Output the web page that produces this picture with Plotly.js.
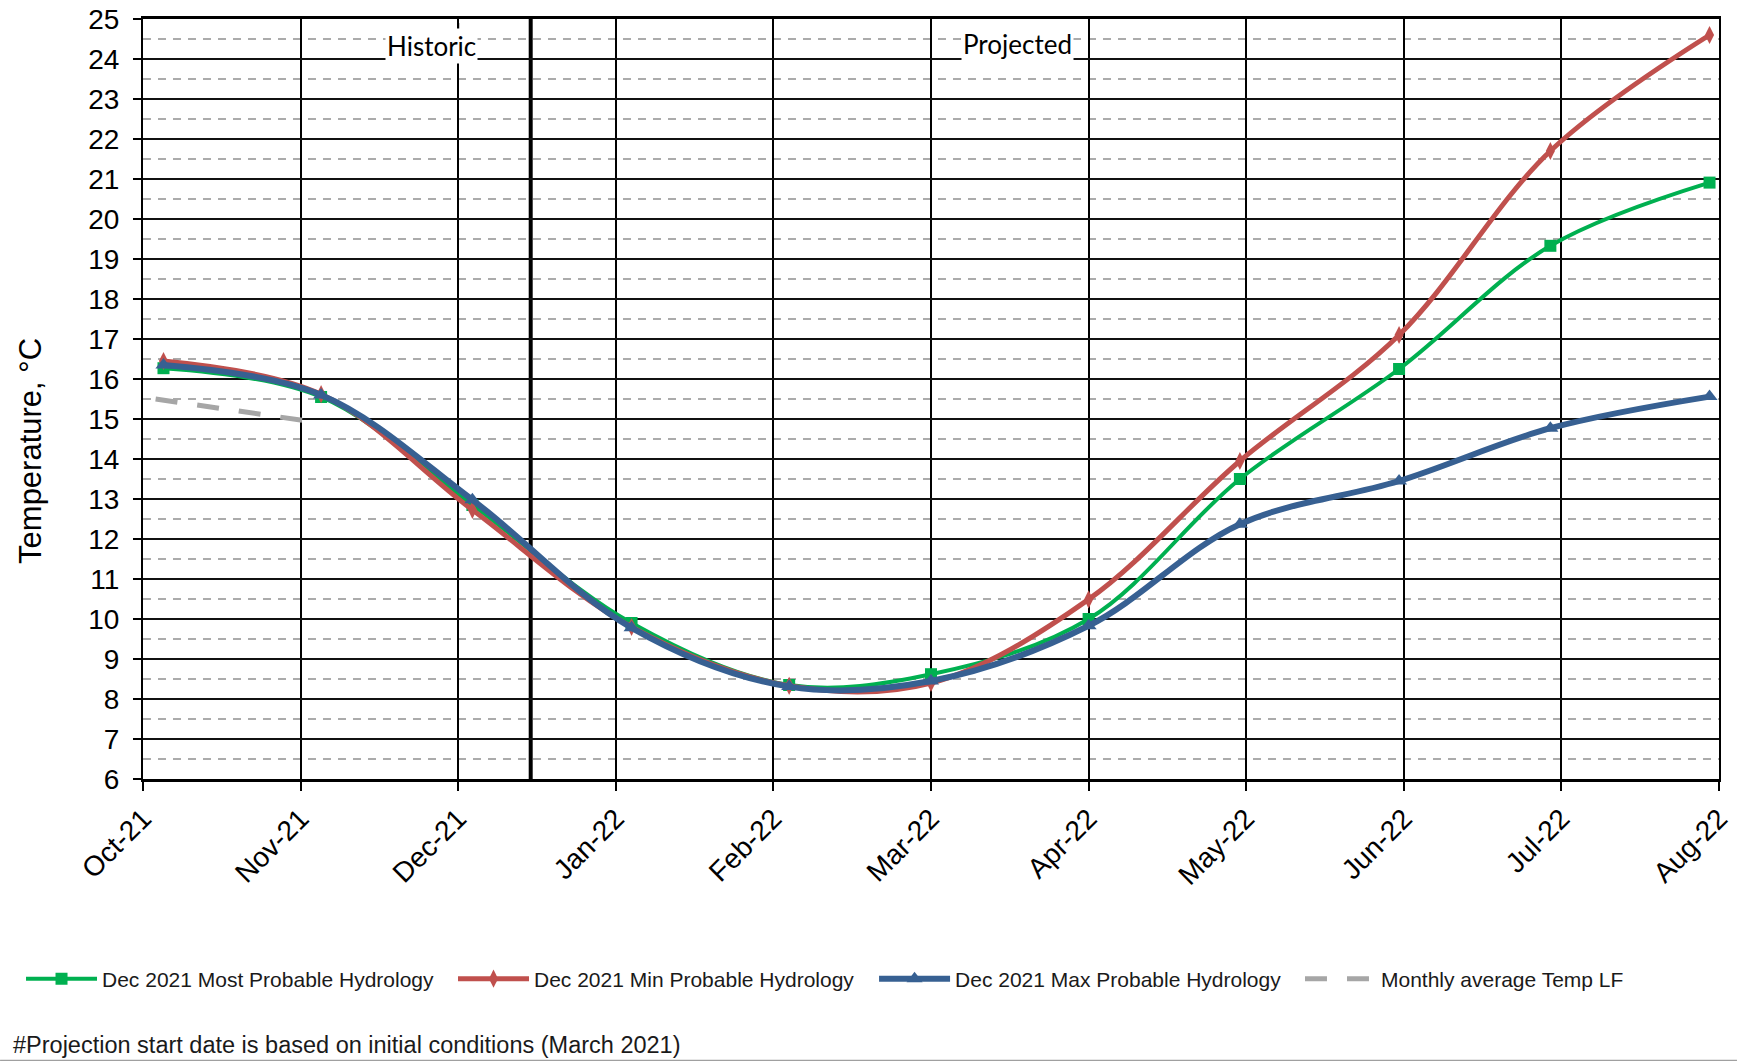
<!DOCTYPE html>
<html>
<head>
<meta charset="utf-8">
<script src="https://cdn.plot.ly/plotly-3.0.1.min.js"></script>
<style>html,body{margin:0;padding:0;background:#fff;}#chart{width:1737px;height:1061px;}</style>
</head>
<body>
<div id="chart"></div>
<script>
// ---- data ----
const monthLabels = ['Oct-21','Nov-21','Dec-21','Jan-22','Feb-22','Mar-22','Apr-22','May-22','Jun-22','Jul-22','Aug-22'];
const monthTicks = [0,1,2,3,4,5,6,7,8,9,10];
// position of each data point (months after Oct-21)
const pointX = [0.13, 1.13, 2.09, 3.10, 4.10, 5.00, 6.00, 6.96, 7.97, 8.93, 9.94];
const mostProbable = [16.27, 15.55, 12.85, 9.90, 8.35, 8.62, 10.00, 13.50, 16.25, 19.33, 20.91];
const minProbable  = [16.45, 15.62, 12.73, 9.80, 8.33, 8.40, 10.49, 13.95, 17.10, 21.70, 24.60];
const maxProbable  = [16.35, 15.60, 12.98, 9.78, 8.31, 8.45, 9.83, 12.37, 13.45, 14.77, 15.56];
const avgX = [0.08, 1.04];
const avgTemp = [15.50, 14.95];
const projectionStart = 2.46;

const legendFont = {size: 21, color: '#1a1a1a', family: '"Liberation Sans", Arial, sans-serif'};
function legendBox(xFrac) {
  return {orientation: 'h', xref: 'container', yref: 'container', x: xFrac, y: 0.0773,
          xanchor: 'left', yanchor: 'middle', font: legendFont, itemwidth: 71,
          bgcolor: 'rgba(0,0,0,0)', borderwidth: 0};
}

const traces = [
  {x: pointX, y: mostProbable, name: 'Dec 2021 Most Probable Hydrology', type: 'scatter', mode: 'lines+markers', legend: 'legend',
   line: {color: '#00b050', width: 4, shape: 'spline', smoothing: 1}, marker: {symbol: 'square', size: 12, color: '#00b050'}},
  {x: pointX, y: minProbable, name: 'Dec 2021 Min Probable Hydrology', type: 'scatter', mode: 'lines+markers', legend: 'legend2',
   line: {color: '#c0504d', width: 5, shape: 'spline', smoothing: 1}, marker: {symbol: 'diamond-tall', size: 13, color: '#c0504d'}},
  {x: pointX, y: maxProbable, name: 'Dec 2021 Max Probable Hydrology', type: 'scatter', mode: 'lines+markers', legend: 'legend3',
   line: {color: '#376092', width: 6, shape: 'spline', smoothing: 1}, marker: {symbol: 'triangle-up', size: 14, color: '#376092'}},
  {x: avgX, y: avgTemp, name: 'Monthly average Temp LF', type: 'scatter', mode: 'lines', legend: 'legend4',
   line: {color: '#a6a6a6', width: 5, dash: '22px,20px'}}
];

const layout = {
  width: 1737, height: 1061,
  margin: {l: 143, r: 18, t: 19, b: 282},
  paper_bgcolor: '#ffffff', plot_bgcolor: '#ffffff',
  font: {family: '"Liberation Sans", Arial, sans-serif', color: '#000'},
  showlegend: true,
  legend: legendBox(0.0121),
  legend2: legendBox(0.2608),
  legend3: legendBox(0.5032),
  legend4: legendBox(0.7484),
  xaxis: {range: [0, 10], tickmode: 'array', tickvals: monthTicks, ticktext: monthLabels,
          tickangle: -45, tickfont: {size: 28, color: '#000'}, ticks: 'outside', ticklen: 9, tickwidth: 2, tickcolor: '#000',
          showgrid: true, gridcolor: '#000', gridwidth: 2, zeroline: false,
          showline: true, linecolor: '#000', linewidth: 3, mirror: true, fixedrange: true},
  yaxis: {range: [6, 25], dtick: 1, tick0: 6, tickfont: {size: 28, color: '#000'}, ticks: 'outside', ticklen: 8, tickwidth: 2, tickcolor: '#000',
          ticklabelstandoff: 8,
          showgrid: true, gridcolor: '#111', gridwidth: 1.6, zeroline: false,
          showline: true, linecolor: '#000', linewidth: 2, mirror: true,
          minor: {dtick: 0.5, tick0: 6, showgrid: true, gridcolor: '#ababab', gridwidth: 2.6, griddash: '8px,7px', ticks: ''},
          fixedrange: true},
  shapes: [
    {type: 'line', xref: 'x', yref: 'paper', x0: projectionStart, x1: projectionStart, y0: 0, y1: 1,
     line: {color: '#000', width: 4}, layer: 'between'},
    // Dec-21 gridline shows through the "Historic" label
    {type: 'line', xref: 'x', yref: 'y', x0: monthTicks[2], x1: monthTicks[2], y0: 23.9, y1: 24.9,
     line: {color: '#000', width: 2}, layer: 'above'},
    {type: 'line', xref: 'paper', yref: 'paper', x0: -0.0907, x1: 1.0114, y0: -0.3706, y1: -0.3706,
     line: {color: '#a0a0a0', width: 2}}
  ],
  annotations: [
    {text: 'Temperature, °C', xref: 'paper', yref: 'paper', x: -0.0711, y: 0.4316, textangle: -90,
     xanchor: 'center', yanchor: 'middle', showarrow: false, font: {size: 31, color: '#000'}},
    {text: 'Historic', xref: 'x', yref: 'y', x: 1.83, y: 24.33, showarrow: false,
     font: {family: 'Lato, "Open Sans", sans-serif', size: 26, color: '#000'}, bgcolor: '#ffffff'},
    {text: 'Projected', xref: 'x', yref: 'y', x: 5.55, y: 24.37, showarrow: false,
     font: {family: 'Lato, "Open Sans", sans-serif', size: 26, color: '#000'}, bgcolor: '#ffffff'},
    {text: '#Projection start date is based on initial conditions (March 2021)', xref: 'paper', yref: 'paper',
     x: -0.0838, y: -0.35, xanchor: 'left', yanchor: 'middle', showarrow: false,
     font: {size: 23.5, color: '#1a1a1a'}}
  ]
};

Plotly.newPlot('chart', traces, layout, {displayModeBar: false, staticPlot: true});
</script>
</body>
</html>
